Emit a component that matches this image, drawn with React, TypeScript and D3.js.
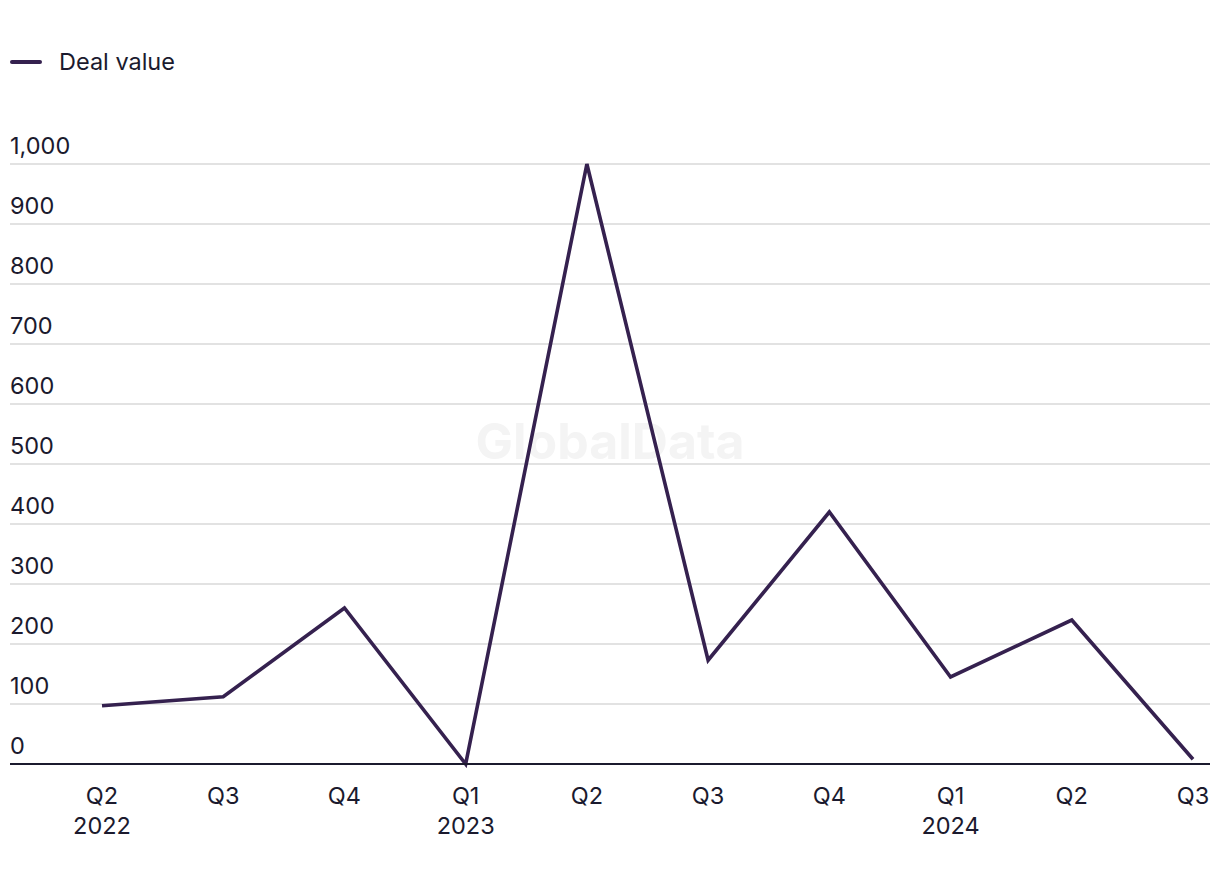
import React from "react";
import * as d3 from "d3";

const quarters = ["Q2", "Q3", "Q4", "Q1", "Q2", "Q3", "Q4", "Q1", "Q2", "Q3"];
const years = ["2022", "", "", "2023", "", "", "", "2024", "", ""];
const dealValue = [97, 112, 260, 0, 1000, 173, 420, 145, 240, 8];
const yTicks = [0, 100, 200, 300, 400, 500, 600, 700, 800, 900, 1000];

const W = 1220;
const H = 884;
const textColor = "#1b1a2e";
const lineColor = "#35214f";
const font = "Inter, 'Liberation Sans', sans-serif";

export default function App() {
  const ids = dealValue.map((_, i) => String(i));
  const x = d3.scalePoint<string>().domain(ids).range([102, 1193]);
  const y = d3.scaleLinear().domain([0, 1000]).range([764, 164]);
  const line = d3
    .line<number>()
    .x((_, i) => x(String(i)) as number)
    .y((d) => y(d));

  return (
    <div style={{ position: "absolute", left: 0, top: 0 }}>
      <svg width={W} height={H} style={{ display: "block", background: "#fff" }}>
        <g fontFamily={font} fill={textColor}>
          {/* Legend */}
          <line x1={12} x2={40} y1={62} y2={62} stroke={lineColor} strokeWidth={4} strokeLinecap="round" />
          <text x={59} y={70} fontSize={23.5}>Deal value</text>

          {/* Watermark */}
          <text x={610} y={459} fontSize={50} fontWeight={700} fill="#f4f4f4" textAnchor="middle">
            GlobalData
          </text>

          {/* Grid + y labels */}
          {yTicks.map((t) => (
            <g key={t}>
              {t !== 0 && (
                <line x1={10} x2={1210} y1={y(t)} y2={y(t)} stroke="#d9d9d9" strokeWidth={1.5} />
              )}
              <text x={10} y={y(t) - 10} fontSize={23.5}>
                {d3.format(",")(t)}
              </text>
            </g>
          ))}

          {/* Line */}
          <path d={line(dealValue) || ""} fill="none" stroke={lineColor} strokeWidth={3.6} strokeLinejoin="miter" />

          {/* Axis */}
          <line x1={10} x2={1210} y1={y(0)} y2={y(0)} stroke={textColor} strokeWidth={2} />

          {/* X labels */}
          {quarters.map((q, i) => (
            <g key={i}>
              <text x={x(String(i))} y={804} fontSize={23.5} textAnchor="middle">{q}</text>
              {years[i] && (
                <text x={x(String(i))} y={834} fontSize={23.5} textAnchor="middle">{years[i]}</text>
              )}
            </g>
          ))}
        </g>
      </svg>
    </div>
  );
}
